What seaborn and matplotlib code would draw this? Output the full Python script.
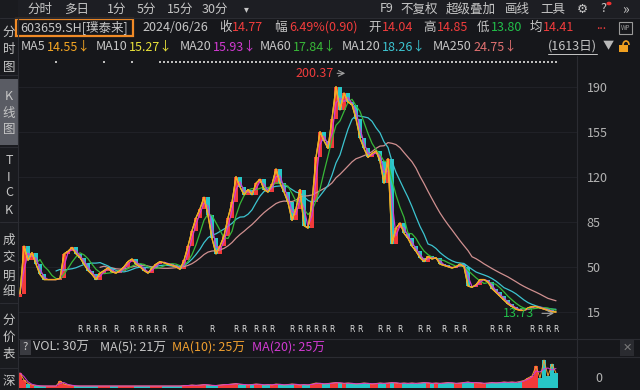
import numpy as np
import pandas as pd
import matplotlib
matplotlib.use("Agg")
import matplotlib.pyplot as plt
import seaborn as sns
from matplotlib.patches import Rectangle, Arc
from matplotlib.lines import Line2D

# ---------------- data (one sample ~ 12 trading days) ----------------
closes = [29, 66, 55, 61, 52, 44, 40, 40, 40, 40,
          41, 60, 62, 65, 60, 57, 52, 47, 44, 40,
          45, 47, 49, 46, 45, 47, 50, 54, 56, 52,
          50, 47, 45, 49, 52, 54, 53, 52, 51, 50,
          48, 55, 66, 78, 88, 95, 104, 90, 72, 60,
          66, 74, 88, 100, 120, 112, 106, 110, 106, 115,
          118, 110, 108, 114, 126, 115, 108, 100, 86, 95,
          110, 82, 80, 100, 135, 155, 148, 142, 165, 190,
          172, 185, 178, 176, 165, 150, 142, 135, 138, 140,
          132, 115, 134, 68, 80, 84, 76, 72, 66, 62,
          57, 54, 58, 56, 57, 52, 51, 50, 49, 50,
          52, 50, 35, 34, 36, 40, 40, 38, 33, 30,
          27, 24, 21, 19, 17, 16, 16, 18, 19, 19,
          18, 17, 16, 15, 14.77]
volumes = [30, 16, 9, 6, 5, 4, 4, 4, 4, 4,
           14, 8, 6, 5, 4, 4, 4, 4, 4, 4,
           4, 4, 4, 4, 4, 4, 4, 4, 4, 4,
           4, 4, 4, 4, 4, 4, 4, 4, 4, 4,
           4, 5, 5, 6, 5, 6, 7, 6, 5, 5,
           6, 7, 7, 8, 9, 7, 7, 6, 7, 8,
           7, 6, 7, 6, 8, 7, 6, 7, 8, 7,
           6, 7, 6, 8, 10, 9, 8, 9, 10, 11,
           10, 9, 10, 9, 8, 9, 10, 9, 8, 9,
           10, 9, 10, 11, 10, 9, 10, 9, 10, 9,
           10, 11, 10, 9, 10, 9, 10, 11, 10, 9,
           10, 11, 12, 10, 11, 10, 9, 10, 11, 10,
           11, 12, 11, 12, 11, 13, 15, 20, 24, 44,
           20, 56, 24, 48, 30]
ma_names = ["MA5", "MA10", "MA20", "MA60", "MA120", "MA250"]
ma_windows = [1, 1, 2, 5, 10, 21]          # windows in samples
ma_values = ["14.55↓", "15.27↓", "15.93↓", "17.84↓", "18.26↓", "24.75↓"]
ma_colors = ["#f5a623", "#e8e23a", "#d23ad2", "#38b838", "#3cc4d0", "#d09090"]
peak_high = 200.37
low_low = 13.73
price_ticks = [15, 50, 85, 120, 155, 190]
r_marks = [15, 17, 19, 21, 24, 28, 30, 32, 34, 36, 40, 48, 54, 56, 59, 61, 63,
           68, 70, 72, 74, 76, 78, 83, 85, 90, 92, 95, 100, 102, 106, 109, 111,
           118, 120, 122, 128, 130, 132, 134]
top_marks = [9, 21, 28] + list(range(35, 135, 1))

BG = "#16171b"
GRAY = "#c6c6c6"
RED = "#f03c3c"
GREEN = "#22c04a"
UP = "#f23a3a"
DOWN = "#27c6c6"

sns.set_style("dark")
plt.rcParams["font.family"] = ["Noto Sans CJK SC", "DejaVu Sans"]
plt.rcParams["axes.unicode_minus"] = False

W, H = 640, 390
fig = plt.figure(figsize=(6.4, 3.9), dpi=100, facecolor=BG)


def fx(x):
    return x / W


def fy(y):
    return 1 - y / H


def ftext(x, y, s, color=GRAY, size=9, ha="left", **kw):
    fig.text(fx(x), fy(y), s, color=color, fontsize=size, ha=ha, va="center", **kw)


def fline(x0, y0, x1, y1, color="#2b2c32", lw=0.8):
    fig.add_artist(Line2D([fx(x0), fx(x1)], [fy(y0), fy(y1)], color=color, lw=lw,
                          transform=fig.transFigure))


# ---------------- frame / header ----------------
fig.add_artist(Rectangle((0, fy(18)), 1, 18 / H, transform=fig.transFigure,
                         facecolor="#1d1e23", edgecolor="none"))
fig.add_artist(Rectangle((0, 0), fx(18), 1, transform=fig.transFigure,
                         facecolor="#1a1b1f", edgecolor="none"))
fig.add_artist(Rectangle((0, fy(145)), fx(18), 66 / H, transform=fig.transFigure,
                         facecolor="#5a5c64", edgecolor="none"))
fline(0, 18, 640, 18)
fline(18, 18, 18, 390)
for yy in [75, 147, 222, 303, 368]:
    fline(0, yy, 18, yy)
fline(18, 339, 640, 339)
fline(18, 357, 640, 357)
fline(577, 56, 577, 390)

for s, x in [("分时", 27), ("多日", 64), ("1分", 107), ("5分", 137), ("15分", 167), ("30分", 202)]:
    ftext(x, 9, s, size=9)
ftext(244, 9, "▾", size=7)
for s, x in [("F9", 380), ("不复权", 400), ("超级叠加", 446), ("画线", 505), ("工具", 540)]:
    ftext(x, 9, s, size=9)
ftext(577, 9, "⚙", size=9, family=["DejaVu Sans"])
ftext(600, 9, "?", size=9)
fig.add_artist(plt.Circle((fx(609), fy(3.5)), 1.8 / W, transform=fig.transFigure,
                          color="#f03030"))
ftext(622, 9, "»", size=10)

side = [("分", 32), ("时", 50), ("图", 67), ("K", 97), ("线", 113), ("图", 130),
        ("T", 160), ("I", 178), ("C", 193), ("K", 210),
        ("成", 240), ("交", 258), ("明", 276), ("细", 292),
        ("分", 320), ("价", 337), ("表", 354), ("深", 381)]
for s, y in side:
    ftext(9, y, s, size=9, ha="center")

fig.add_artist(Rectangle((fx(16), fy(36)), (133 - 16) / W, 17 / H, transform=fig.transFigure,
                         facecolor="none", edgecolor="#f08a26", lw=1.6))
ftext(20, 27.5, "603659.SH[璞泰来]", size=9)
ftext(142, 27.5, "2024/06/26", size=9)
ftext(219, 27.5, "收", size=9)
ftext(232, 27.5, "14.77", color=RED, size=9)
ftext(274, 27.5, "幅", size=9)
ftext(289, 27.5, "6.49%(0.90)", color=RED, size=9)
ftext(368, 27.5, "开", size=9)
ftext(382, 27.5, "14.04", color=RED, size=9)
ftext(423, 27.5, "高", size=9)
ftext(437, 27.5, "14.85", color=RED, size=9)
ftext(477, 27.5, "低", size=9)
ftext(491, 27.5, "13.80", color=GREEN, size=9)
ftext(530, 27.5, "均", size=9)
ftext(543, 27.5, "14.41", color=RED, size=9)
ftext(596, 25.5, "...", color=RED, size=9)
fig.add_artist(Rectangle((fx(619), fy(34)), 13 / W, 12 / H, transform=fig.transFigure,
                         facecolor="none", edgecolor="#9a9a9a", lw=0.8))
ftext(625.5, 28, "WP", size=4.5, ha="center", color="#9a9a9a")

ma_x = [21, 96, 180, 260, 342, 433]
for name, val, col, x in zip(ma_names, ma_values, ma_colors, ma_x):
    ftext(x, 46.5, name, size=9)
    vx = x + 11 + 7.2 * len(name) - 7
    ftext(vx, 46.5, val, color=("#e07070" if name == "MA250" else col), size=9)
ftext(548, 46.5, "(1613日)", size=9)
fline(548, 54, 597, 54, color=GRAY, lw=0.7)
ftext(603, 46.5, "▼", size=8, color="#b8b8b8")
# lock icon drawn as shapes
fig.add_artist(Rectangle((fx(619), fy(52)), 9 / W, 7 / H, transform=fig.transFigure,
                         facecolor="#f0a020", edgecolor="none"))
fig.add_artist(Arc((fx(626), fy(45)), 6 / W, 8 / H, theta1=0, theta2=180,
                   transform=fig.transFigure, color="#f0a020", lw=1.2))

# ---------------- price panel ----------------
n = len(closes)
idx = np.arange(n)
close = pd.Series(closes, dtype=float)
prev = close.shift(1).fillna(close.iloc[0] * 0.9)

ax = fig.add_axes([fx(18), fy(335), (577 - 18) / W, (335 - 58) / H])
ax.set_facecolor(BG)
ax.set_xlim(-0.5, 139.25)
ax.set_ylim(-3.1, 212.3)
for sp in ax.spines.values():
    sp.set_visible(False)
ax.set_yticks(price_ticks)
ax.set_xticks([])
ax.yaxis.tick_right()
ax.tick_params(axis="y", length=0, pad=7, labelsize=9, labelcolor="#b4b4b4")
ax.grid(axis="y", color="#23242a", lw=0.6)
ax.grid(axis="x", visible=False)

up = close >= prev
ax.bar(idx, (close - prev).abs(), bottom=np.minimum(close, prev), width=0.9,
       color=np.where(up, UP, DOWN), edgecolor="none", zorder=2)

rows = []
for name, w in zip(ma_names, ma_windows):
    mp = 1 if w <= 2 else w
    vals = close.rolling(w, min_periods=mp).mean()
    rows.append(pd.DataFrame({"i": idx, "v": vals, "ma": name}))
df = pd.concat(rows, ignore_index=True).dropna()
sns.lineplot(data=df, x="i", y="v", hue="ma", hue_order=ma_names[::-1],
             palette=dict(zip(ma_names, ma_colors)), legend=False, ax=ax,
             linewidth=0.9, zorder=3)
ax.set_xlabel("")
ax.set_ylabel("")

pk = int(np.argmax(closes))
ax.text(pk - 0.6, peak_high, f"{peak_high:.2f}", color=RED, fontsize=9, ha="right", va="center")
ax.annotate("", xy=(pk + 3, peak_high), xytext=(pk - 0.4, peak_high),
            arrowprops=dict(arrowstyle="->", color="#a0a0a0", lw=0.8))
lo = int(np.argmin(closes))
ax.text(lo - 5.4, low_low, f"{low_low:.2f}", color=GREEN, fontsize=9, ha="right", va="center")
ax.annotate("", xy=(lo + 0.2, low_low), xytext=(lo - 4.2, low_low),
            arrowprops=dict(arrowstyle="->", color="#a0a0a0", lw=0.8))

for r in r_marks:
    ax.text(r, 1.0, "R", color="#e0e0e0", fontsize=5.5, ha="center", va="center",
            family=["DejaVu Sans"])
ax.plot(top_marks, [209.5] * len(top_marks), linestyle="none", marker="s",
        markersize=1.6, color="#bdbdbd", markeredgewidth=0)

# ---------------- volume panel ----------------
fig.add_artist(Rectangle((fx(20), fy(355)), 11 / W, 15 / H, transform=fig.transFigure,
                         facecolor="#3a3b41", edgecolor="none", zorder=0))
ftext(25.5, 347.5, "?", size=8, ha="center")
ftext(33, 347.5, "VOL: 30万", size=9)
ftext(100, 347.5, "MA(5): 21万", size=9)
ftext(172, 347.5, "MA(10): 25万", color="#f0a030", size=9)
ftext(252, 347.5, "MA(20): 25万", color="#d23ad2", size=9)
fig.add_artist(Rectangle((fx(620), fy(356)), 14 / W, 16 / H, transform=fig.transFigure,
                         facecolor="#2a2b30", edgecolor="none"))
ftext(627, 348, "✕", size=8, ha="center", color="#7a7a7a", family=["DejaVu Sans"])
ftext(595, 378, "0", size=9, color="#b4b4b4")

vax = fig.add_axes([fx(18), fy(388), (577 - 18) / W, (388 - 358) / H])
vax.set_facecolor(BG)
vax.set_xlim(-0.5, 139.25)
vax.set_ylim(0, 60)
for sp in vax.spines.values():
    sp.set_visible(False)
vax.set_xticks([])
vax.set_yticks([])
vol = pd.Series(volumes, dtype=float)
vax.bar(idx, vol, width=0.85, color=np.where(up, UP, DOWN), edgecolor="none")
vdf = pd.concat([
    pd.DataFrame({"i": idx, "v": vol.rolling(1).mean(), "m": "VMA10"}),
    pd.DataFrame({"i": idx, "v": vol.rolling(2, min_periods=1).mean(), "m": "VMA20"}),
])
sns.lineplot(data=vdf, x="i", y="v", hue="m", palette={"VMA10": "#f0a030", "VMA20": "#d23ad2"},
             legend=False, ax=vax, linewidth=0.7)
vax.set_xlabel("")
vax.set_ylabel("")

fig.savefig("out.png", dpi=100, facecolor=BG)
